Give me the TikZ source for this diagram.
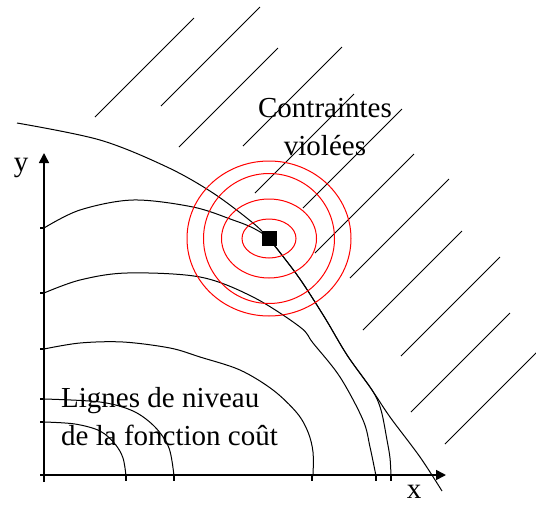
\documentclass[tikz,border=0pt]{standalone}
\usepackage{fontspec}
\setmainfont{Liberation Serif}
\usetikzlibrary{arrows.meta}

\begin{document}
\begin{tikzpicture}[x=1pt, y=-1pt,
        axis/.style={line width=1.6pt, -{Triangle[width=10pt, length=10pt]}},
        axtick/.style={line width=1.2pt},
        level/.style={line width=1pt},
        ring/.style={red, line width=1pt},
        hatch/.style={line width=0.9pt},
        txt/.style={font=\fontsize{29}{37.5}\selectfont, inner sep=0pt}
    ]
        \useasboundingbox (0,0) rectangle (536,504);
        \clip (0,0) rectangle (536,504);

        % Hatching of the violated region
        \foreach \p in {(95,117),(161,106),(179,147),(243,146),(255,193),(303,208),
                        (315,253),(350,278),(363,330),(401,356),(411,412),(445,444)}
            \draw[hatch] \p -- ++(99,-99);

        % Axes
        \coordinate (yfoot) at (44,482);
        \coordinate (ytop) at (44,153);
        \coordinate (xfoot) at (40,475);
        \coordinate (xtip) at (446,475);
        \draw[axis] (yfoot) -- (ytop);
        \draw[axis] (xfoot) -- (xtip);
        \foreach \t in {228,293,349,399,422}
            \draw[axtick] (40,\t) -- (44,\t);
        \foreach \t in {126,174,312,376,391}
            \draw[axtick] (\t,475) -- (\t,481);
        \node[txt, anchor=base] (ylab) at (21,171) {y};
        \node[txt, anchor=base] (xlab) at (414,498) {x};

        % Level curves of the cost function
        \draw[level] plot[smooth, tension=0.55] coordinates
            {(44,422) (75,424) (100,431) (115,444) (123,458) (126,476)};
        \draw[level] plot[smooth, tension=0.55] coordinates
            {(44,399) (100,402) (133,411) (155,427) (169,448) (174,476)};
        \draw[level] plot[smooth, tension=0.55] coordinates
            {(44,349) (80,343) (123,342) (170,348) (200,357) (240,370) (273,390)
             (297,413) (308,432) (313,452) (313,476)};
        \draw[level] plot[smooth, tension=0.55] coordinates
            {(44,293) (80,280) (127,273) (200,277) (253,297) (300,327) (313,343)
             (340,377) (363,420) (370,447) (376,476)};
        \draw[level] plot[smooth, tension=0.55] coordinates
            {(44,228) (80,210) (133,200) (193,207) (233,220) (253,228) (268,238)
             (285,259) (302,282) (325,318) (347,355) (372,390) (381,410)
             (387,440) (390,458) (391,476)};

        % Constraint boundary
        \draw[level] plot[smooth, tension=0.55] coordinates
            {(17,123) (100,140) (167,167) (213,193) (253,223) (268,238) (285,259)
             (302,282) (325,318) (347,355) (372,390) (390,417) (420,457) (442,491)};

        % Optimum and rings
        \node[fill, minimum size=15pt, inner sep=0pt] (opt) at (269,238.5) {};
        \draw[ring] (opt.center) ellipse [x radius=27pt, y radius=19.5pt];
        \draw[ring] (opt.center) ellipse [x radius=47.5pt, y radius=39.5pt];
        \draw[ring] (opt.center) ellipse [x radius=65.5pt, y radius=65pt];
        \draw[ring] (opt.center) ellipse [x radius=82pt, y radius=77.5pt];

        % Texts
        \node[txt, align=center, anchor=base] (viol) at (325,155) {Contraintes\\viol\'ees};
        \node[txt, align=left, anchor=base west] (lev) at (61,445) {Lignes de niveau\\de la fonction co\^ut};
    \end{tikzpicture}
\end{document}
